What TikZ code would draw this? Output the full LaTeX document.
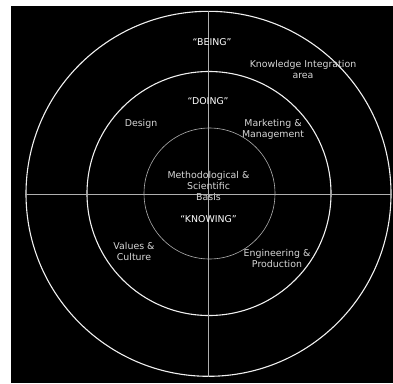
\documentclass[tikz,border=0pt]{standalone}
\usepackage{fontspec}
\setmainfont{DejaVu Sans}
\definecolor{ringwhite}{RGB}{240, 240, 240}
\definecolor{axisgrey}{RGB}{175, 175, 175}
\definecolor{labelgrey}{RGB}{215, 215, 215}
\usetikzlibrary{positioning}

\begin{document}
\begin{tikzpicture}[
  x=1pt, y=-1pt,
  ring/.style={draw=ringwhite, circle, inner sep=0pt, line width=1.1pt},
  lbl/.style={text=labelgrey, align=center, inner sep=0pt, font=\fontsize{9.4}{11}\selectfont},
  lvl/.style={lbl, text=white},
  axis/.style={draw=axisgrey, line width=0.6pt}
]
  \useasboundingbox (0, 0) rectangle (393, 383);
  \fill[white] (0, 0) rectangle (393, 383);
  \fill[black] (11, 6) rectangle (393, 383);

  % Rings
  \node[ring, minimum size=365pt] (outer) at (208.5, 193.8) {};
  \node[ring, minimum size=244pt] (mid) at (209, 193.5) {};
  \node[ring, draw=axisgrey, line width=0.6pt, minimum size=131pt] (inner) at (209.5, 193.5) {};

  % Axes
  \draw[axis] (outer.west) -- (outer.east);
  \draw[axis] (outer.north) -- (outer.south);

  % Outer ring
  \node[lvl] (being) at (212, 42) {“BEING”};
  \node[lbl] (kia) at (303, 69.5) {Knowledge Integration\\area};

  % Middle ring
  \node[lvl] (doing) at (208, 101) {“DOING”};
  \node[lbl] (design) at (141, 124) {Design};
  \node[lbl] (market) at (273, 129.5) {Marketing \&\\Management};
  \node[lbl] (values) at (134, 251.5) {Values \&\\Culture};
  \node[lbl] (engin) at (277, 258) {Engineering \&\\Production};

  % Inner ring
  \node[lbl] (basis) at (208.5, 186) {Methodological \&\\Scientific\\Basis};
  \node[lvl] (knowing) at (208.5, 219) {“KNOWING”};
\end{tikzpicture}
\end{document}
